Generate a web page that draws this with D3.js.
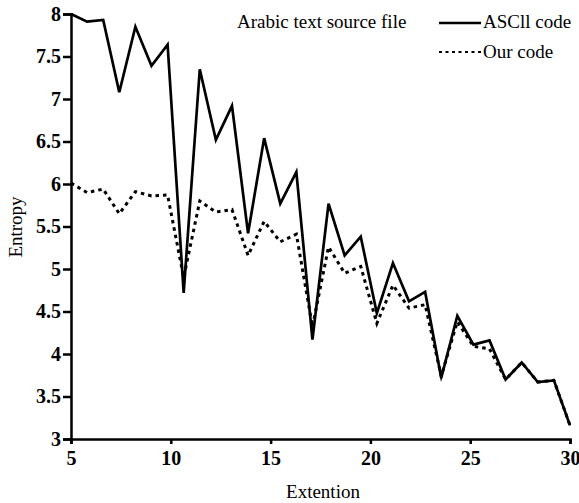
<!DOCTYPE html>
<html><head><meta charset="utf-8">
<script src="https://cdn.jsdelivr.net/npm/d3@7"></script>
<style>body{margin:0;background:#fff;} text{font-family:"Liberation Serif","Times New Roman",serif;}</style>
</head><body><svg id="c" width="579" height="503"></svg>
<script>
const extension = [5, 5.806, 6.613, 7.419, 8.226, 9.032, 9.839, 10.645, 11.452, 12.258, 13.065, 13.871, 14.677, 15.484, 16.290, 17.097, 17.903, 18.710, 19.516, 20.323, 21.129, 21.935, 22.742, 23.548, 24.355, 25.161, 25.968, 26.774, 27.581, 28.387, 29.194, 30];
const asciiCode = [8.0, 7.91, 7.93, 7.08, 7.85, 7.39, 7.64, 4.72, 7.35, 6.52, 6.92, 5.42, 6.54, 5.77, 6.14, 4.17, 5.77, 5.16, 5.38, 4.48, 5.07, 4.62, 4.73, 3.72, 4.45, 4.11, 4.16, 3.70, 3.90, 3.67, 3.69, 3.16];
const ourCode = [6.01, 5.90, 5.94, 5.65, 5.91, 5.86, 5.87, 4.90, 5.80, 5.67, 5.70, 5.16, 5.56, 5.32, 5.41, 4.32, 5.26, 4.95, 5.03, 4.36, 4.81, 4.54, 4.58, 3.74, 4.38, 4.09, 4.06, 3.70, 3.90, 3.67, 3.69, 3.16];
const xTicks = [5, 10, 15, 20, 25, 30];
const yTicks = [3, 3.5, 4, 4.5, 5, 5.5, 6, 6.5, 7, 7.5, 8];
const seriesNames = ["ASCll code", "Our code"];
const chartTitle = "Arabic text source file";

const svg = d3.select("#c");
const x = d3.scaleLinear().domain([5, 30]).range([71, 570]);
const y = d3.scaleLinear().domain([3, 8]).range([439, 14]);

const xAxis = svg.append("g").attr("transform", "translate(0,439)")
  .call(d3.axisBottom(x).tickValues(xTicks).tickSize(5).tickPadding(7).tickFormat(d3.format("~g")));
const yAxis = svg.append("g").attr("transform", "translate(71,0)")
  .call(d3.axisLeft(y).tickValues(yTicks).tickSize(8).tickPadding(2).tickFormat(d3.format("~g")));
[xAxis, yAxis].forEach(a => {
  a.select(".domain").attr("stroke", "#000").attr("stroke-width", 2.5);
  a.selectAll(".tick line").attr("stroke", "#000").attr("stroke-width", 2.5);
  a.selectAll(".tick text").attr("fill", "#000").attr("font-size", 20).attr("font-weight", "bold")
    .style("font-family", "'Liberation Serif', serif");
});

const line = d3.line().x((d, i) => x(extension[i])).y(d => y(d));
svg.append("path").datum(asciiCode).attr("d", line).attr("fill", "none")
  .attr("stroke", "#000").attr("stroke-width", 2.7).attr("stroke-linejoin", "miter");
svg.append("path").datum(ourCode).attr("d", line).attr("fill", "none")
  .attr("stroke", "#000").attr("stroke-width", 3).attr("stroke-dasharray", "3.5,4");

svg.append("text").attr("x", 237).attr("y", 28).attr("font-size", 19).text(chartTitle);
const leg = [{n: seriesNames[0], dash: null, yy: 23, ty: 28}, {n: seriesNames[1], dash: "3,3.5", yy: 52, ty: 58}];
leg.forEach(l => {
  svg.append("line").attr("x1", 439).attr("x2", 481).attr("y1", l.yy).attr("y2", l.yy)
    .attr("stroke", "#000").attr("stroke-width", l.dash ? 2 : 2.5).attr("stroke-dasharray", l.dash);
  svg.append("text").attr("x", 483).attr("y", l.ty).attr("font-size", 19).text(l.n);
});

svg.append("text").attr("x", 323).attr("y", 498).attr("text-anchor", "middle").attr("font-size", 19).text("Extention");
svg.append("text").attr("transform", "translate(22,227) rotate(-90)").attr("text-anchor", "middle").attr("font-size", 19).text("Entropy");
</script></body></html>
